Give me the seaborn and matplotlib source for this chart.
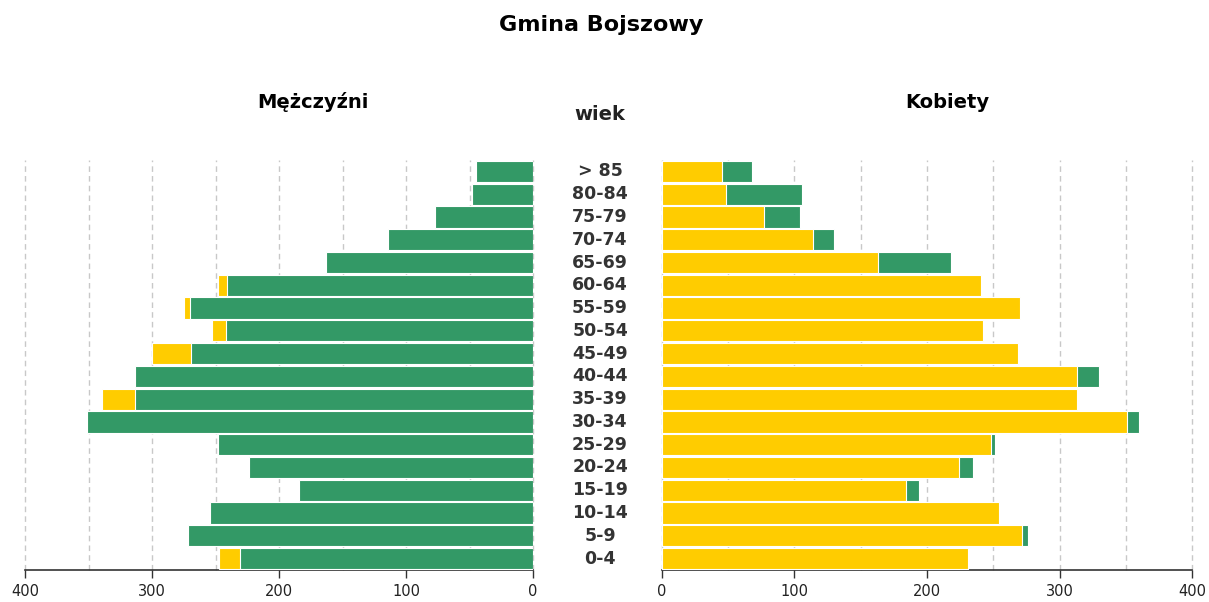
import numpy as np
import pandas as pd
import matplotlib
matplotlib.use("Agg")
import matplotlib.pyplot as plt
import matplotlib.transforms as mtransforms
import seaborn as sns

age_groups = ["> 85", "80-84", "75-79", "70-74", "65-69", "60-64", "55-59", "50-54",
              "45-49", "40-44", "35-39", "30-34", "25-29", "20-24", "15-19", "10-14",
              "5-9", "0-4"]
men = [45, 48, 77, 114, 163, 248, 275, 253, 300, 313, 339, 351, 248, 224, 184, 255, 272, 247]
women = [68, 106, 104, 130, 218, 241, 270, 242, 269, 330, 313, 360, 251, 235, 194, 254, 276, 231]
xticks = [0, 100, 200, 300, 400]

GREEN = "#339966"
YELLOW = "#FFCC00"

sns.set_theme(style="white")
plt.rcParams['font.family'] = ['DejaVu Sans']

df = pd.DataFrame({"age": age_groups, "men": men, "women": women})
df["common"] = np.minimum(df["men"], df["women"])

W, H = 1209, 602
fig = plt.figure(figsize=(W / 100, H / 100), dpi=100)
ax_l = fig.add_axes([25 / W, 1 - 570 / H, 508 / W, 410 / H])
ax_r = fig.add_axes([662 / W, 1 - 570 / H, 530 / W, 410 / H])

bw = 0.93
# left: men (green common part, yellow excess)
sns.barplot(data=df, x="men", y="age", order=age_groups, orient="h", color=YELLOW,
            saturation=1, width=bw, edgecolor="white", linewidth=0.8, ax=ax_l, zorder=3)
sns.barplot(data=df, x="common", y="age", order=age_groups, orient="h", color=GREEN,
            saturation=1, width=bw, edgecolor="white", linewidth=0.8, ax=ax_l, zorder=4)
# right: women (yellow common part, green excess)
sns.barplot(data=df, x="women", y="age", order=age_groups, orient="h", color=GREEN,
            saturation=1, width=bw, edgecolor="white", linewidth=0.8, ax=ax_r, zorder=3)
sns.barplot(data=df, x="common", y="age", order=age_groups, orient="h", color=YELLOW,
            saturation=1, width=bw, edgecolor="white", linewidth=0.8, ax=ax_r, zorder=4)

ax_l.set_xlim(400, 0)
ax_r.set_xlim(0, 400)
for ax in (ax_l, ax_r):
    ax.set_ylim(len(age_groups) - 0.5, -0.5)
    ax.set_xticks(xticks)
    ax.set_xticks([50, 150, 250, 350], minor=True)
    ax.set_xticklabels([str(t) for t in xticks], fontsize=10.5, color="#222222")
    ax.set_yticks([])
    ax.set_xlabel("")
    ax.set_ylabel("")
    for s in ("top", "left", "right"):
        ax.spines[s].set_visible(False)
    ax.spines["bottom"].set_color("#333333")
    ax.spines["bottom"].set_linewidth(1.2)
    ax.tick_params(axis="x", which="major", direction="out", length=6, width=1,
                   color="#333333", pad=4, bottom=True)
    ax.tick_params(axis="x", which="minor", length=0)
    ax.grid(True, axis="x", which="both", linestyle=(0, (4, 3)), color="#c8c8c8",
            linewidth=1, zorder=0)
    ax.set_axisbelow(True)
    for tick in ax.xaxis.get_major_ticks() + ax.xaxis.get_minor_ticks():
        tick.gridline.set_clip_on(False)

trans = mtransforms.blended_transform_factory(fig.transFigure, ax_l.transData)
for i, lab in enumerate(age_groups):
    fig.text(600 / W, i, lab, transform=trans, ha="center", va="center",
             fontsize=12.5, fontweight="bold", color="#333333")

fig.text(601 / W, 1 - 25 / H, "Gmina Bojszowy", ha="center", va="center",
         fontsize=16, fontweight="bold", color="black")
fig.text(313 / W, 1 - 102 / H, "Mężczyźni", ha="center", va="center",
         fontsize=14, fontweight="bold", color="black")
fig.text(947 / W, 1 - 102 / H, "Kobiety", ha="center", va="center",
         fontsize=14, fontweight="bold", color="black")
fig.text(600 / W, 1 - 115 / H, "wiek", ha="center", va="center",
         fontsize=14, fontweight="bold", color="#222222")

fig.savefig("out.png", dpi=100, facecolor="white")
